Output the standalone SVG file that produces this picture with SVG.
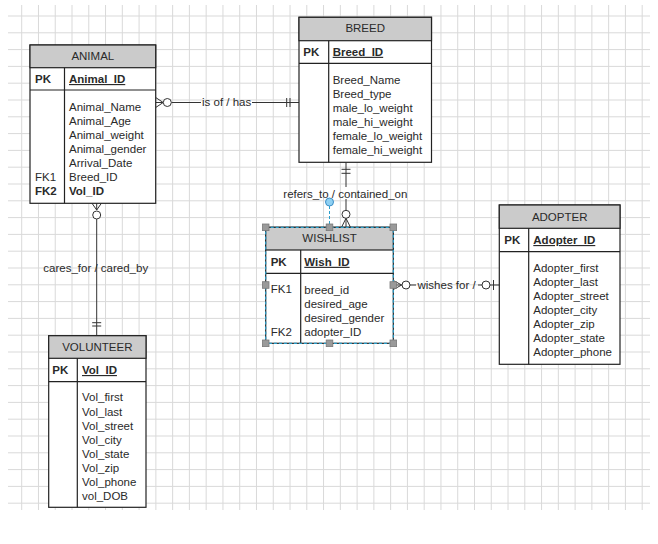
<svg xmlns="http://www.w3.org/2000/svg" width="658" height="544" viewBox="0 0 658 544">
<style>
.grid{stroke:#d9d9d9;stroke-width:1;fill:none}
.box{fill:#fff;stroke:#222;stroke-width:1.2}
.hdr{fill:#cbcbcb;stroke:#222;stroke-width:1.2}
.sep{stroke:#222;stroke-width:1.2;fill:none}
.t{font-family:"Liberation Sans",Arial,sans-serif;font-size:11.5px;fill:#2a2a2a}
.b{font-weight:bold}
.u{text-decoration:underline}
.c{text-anchor:middle}
.ln{stroke:#333;stroke-width:1;fill:none}
.circ{fill:#fff;stroke:#333;stroke-width:1}
.sel{fill:none;stroke:#2a9fcc;stroke-width:1.2;stroke-dasharray:3 2}
.hd{fill:#9a9a9a;stroke:#7a7a7a;stroke-width:0.8}
</style>
<rect width="658" height="544" fill="#fff"/>
<path class="grid" d="M21.7 5V510M38.47 5V510M55.24 5V510M72.01 5V510M88.78 5V510M105.55 5V510M122.32 5V510M139.09 5V510M155.86 5V510M172.63 5V510M189.4 5V510M206.17 5V510M222.94 5V510M239.71 5V510M256.48 5V510M273.25 5V510M290.02 5V510M306.79 5V510M323.56 5V510M340.33 5V510M357.1 5V510M373.87 5V510M390.64 5V510M407.41 5V510M424.18 5V510M440.95 5V510M457.72 5V510M474.49 5V510M491.26 5V510M508.03 5V510M524.8 5V510M541.57 5V510M558.34 5V510M575.11 5V510M591.88 5V510M608.65 5V510M625.42 5V510M642.19 5V510
M8 16H650M8 32.8H650M8 49.6H650M8 66.4H650M8 83.2H650M8 100H650M8 116.8H650M8 133.6H650M8 150.4H650M8 167.2H650M8 184H650M8 200.8H650M8 217.6H650M8 234.4H650M8 251.2H650M8 268H650M8 284.8H650M8 301.6H650M8 318.4H650M8 335.2H650M8 352H650M8 368.8H650M8 385.6H650M8 402.4H650M8 419.2H650M8 436H650M8 452.8H650M8 469.6H650M8 486.4H650M8 503.2H650"/>

<g id="connectors">
  <!-- ANIMAL - BREED -->
  <path class="ln" d="M155.7 97.5L163.2 102.5L155.7 107.5M155.7 102.5H163.2M171.3 102.5H201M252 102.5H299M286.7 98V107M290 98V107"/>
  <circle class="circ" cx="167.3" cy="102.5" r="4"/>
  <text class="t" x="202" y="106.4">is of / has</text>
  <!-- ANIMAL - VOLUNTEER -->
  <path class="ln" d="M92 203.3L96.7 210L101.4 203.3M96.7 203.3V210M96.7 219V335.7M92.2 322.7H101.2M92.2 326H101.2"/>
  <circle class="circ" cx="96.7" cy="215" r="4"/>
  <text class="t" x="43.3" y="272.3">cares_for / cared_by</text>
  <!-- BREED - WISHLIST -->
  <path class="ln" d="M346 162.3V187M346 199V210.3M341.5 169.3H350.5M341.5 173.3H350.5M341.5 227.3L346 218.3L350.5 227.3M346 218.3V227.3"/>
  <circle class="circ" cx="346" cy="214.3" r="4"/>
  <text class="t" x="283.3" y="197.5">refers_to / contained_on</text>
  <!-- WISHLIST - ADOPTER -->
  <path class="ln" d="M393.3 280.5L401.7 285L393.3 289.5M393.3 285H401.7M410 285H416M478 285H482M490 285H499.3M493.5 280V290"/>
  <circle class="circ" cx="406" cy="285" r="4"/>
  <circle class="circ" cx="486" cy="285" r="4"/>
  <text class="t" x="417.5" y="289">wishes for /</text>
</g>

<g id="animal">
  <rect class="box" x="30" y="45" width="125.7" height="158.3"/>
  <rect class="hdr" x="30" y="45" width="125.7" height="22.7"/>
  <path class="sep" d="M30 90H155.7M64.5 67.7V203.3"/>
  <text class="t c" x="92.8" y="59.5">ANIMAL</text>
  <text class="t b" x="35" y="83">PK</text>
  <text class="t b u" x="69" y="83">Animal_ID</text>
  <text class="t" x="69" y="110.8">Animal_Name</text>
  <text class="t" x="69" y="124.8">Animal_Age</text>
  <text class="t" x="69" y="138.8">Animal_weight</text>
  <text class="t" x="69" y="152.8">Animal_gender</text>
  <text class="t" x="69" y="166.8">Arrival_Date</text>
  <text class="t" x="35" y="180.8">FK1</text>
  <text class="t" x="69" y="180.8">Breed_ID</text>
  <text class="t b" x="35" y="194.8">FK2</text>
  <text class="t b" x="69" y="194.8">Vol_ID</text>
</g>

<g id="breed">
  <rect class="box" x="299" y="17.3" width="132.5" height="145"/>
  <rect class="hdr" x="299" y="17.3" width="132.5" height="23.4"/>
  <path class="sep" d="M299 63.3H431.5M328.7 40.7V162.3"/>
  <text class="t c" x="365.2" y="32.4">BREED</text>
  <text class="t b" x="303.3" y="55.8">PK</text>
  <text class="t b u" x="332.7" y="55.8">Breed_ID</text>
  <text class="t" x="332.7" y="84">Breed_Name</text>
  <text class="t" x="332.7" y="97.9">Breed_type</text>
  <text class="t" x="332.7" y="111.8">male_lo_weight</text>
  <text class="t" x="332.7" y="125.7">male_hi_weight</text>
  <text class="t" x="332.7" y="139.6">female_lo_weight</text>
  <text class="t" x="332.7" y="153.5">female_hi_weight</text>
</g>

<g id="wishlist">
  <rect class="box" x="265.7" y="227.3" width="127.6" height="116"/>
  <rect class="hdr" x="265.7" y="227.3" width="127.6" height="22.7"/>
  <path class="sep" d="M265.7 273.3H393.3M300.7 250V343.3"/>
  <rect class="sel" x="265.7" y="227.3" width="127.6" height="116"/>
  <text class="t c" x="329.5" y="242.4">WISHLIST</text>
  <text class="t b" x="270.7" y="265.8">PK</text>
  <text class="t b u" x="304.3" y="265.8">Wish_ID</text>
  <text class="t" x="270.7" y="293">FK1</text>
  <text class="t" x="304.3" y="294">breed_id</text>
  <text class="t" x="304.3" y="308">desired_age</text>
  <text class="t" x="304.3" y="321.8">desired_gender</text>
  <text class="t" x="270.7" y="336">FK2</text>
  <text class="t" x="304.3" y="336">adopter_ID</text>
  <path d="M329.5 206V227.3" stroke="#2a9fcc" stroke-width="1" stroke-dasharray="3 2" fill="none"/>
  <circle cx="329.5" cy="202" r="4" fill="#8fd0f2" stroke="#3a8fc8" stroke-width="1"/>
  <rect class="hd" x="262.4" y="224" width="6.6" height="6.6"/>
  <rect class="hd" x="326.2" y="224" width="6.6" height="6.6"/>
  <rect class="hd" x="390" y="224" width="6.6" height="6.6"/>
  <rect class="hd" x="262.4" y="281.7" width="6.6" height="6.6"/>
  <rect class="hd" x="390" y="281.7" width="6.6" height="6.6"/>
  <rect class="hd" x="262.4" y="340" width="6.6" height="6.6"/>
  <rect class="hd" x="326.2" y="340" width="6.6" height="6.6"/>
  <rect class="hd" x="390" y="340" width="6.6" height="6.6"/>
</g>

<g id="adopter">
  <rect class="box" x="499.3" y="205" width="120.7" height="159.3"/>
  <rect class="hdr" x="499.3" y="205" width="120.7" height="23.3"/>
  <path class="sep" d="M499.3 251.7H620M528.7 228.3V364.3"/>
  <text class="t c" x="559.7" y="220.8">ADOPTER</text>
  <text class="t b" x="504.3" y="244">PK</text>
  <text class="t b u" x="533.3" y="244">Adopter_ID</text>
  <text class="t" x="533.3" y="271.8">Adopter_first</text>
  <text class="t" x="533.3" y="285.8">Adopter_last</text>
  <text class="t" x="533.3" y="299.8">Adopter_street</text>
  <text class="t" x="533.3" y="313.8">Adopter_city</text>
  <text class="t" x="533.3" y="327.8">Adopter_zip</text>
  <text class="t" x="533.3" y="341.8">Adopter_state</text>
  <text class="t" x="533.3" y="355.8">Adopter_phone</text>
</g>

<g id="volunteer">
  <rect class="box" x="48.7" y="335.7" width="97.3" height="171.6"/>
  <rect class="hdr" x="48.7" y="335.7" width="97.3" height="22.6"/>
  <path class="sep" d="M48.7 381.7H146M77.3 358.3V507.3"/>
  <text class="t c" x="97.3" y="350.8">VOLUNTEER</text>
  <text class="t b" x="52.3" y="374">PK</text>
  <text class="t b u" x="82" y="374">Vol_ID</text>
  <text class="t" x="82" y="401.4">Vol_first</text>
  <text class="t" x="82" y="415.5">Vol_last</text>
  <text class="t" x="82" y="429.5">Vol_street</text>
  <text class="t" x="82" y="443.6">Vol_city</text>
  <text class="t" x="82" y="457.6">Vol_state</text>
  <text class="t" x="82" y="471.7">Vol_zip</text>
  <text class="t" x="82" y="485.7">Vol_phone</text>
  <text class="t" x="82" y="499.8">vol_DOB</text>
</g>
</svg>
